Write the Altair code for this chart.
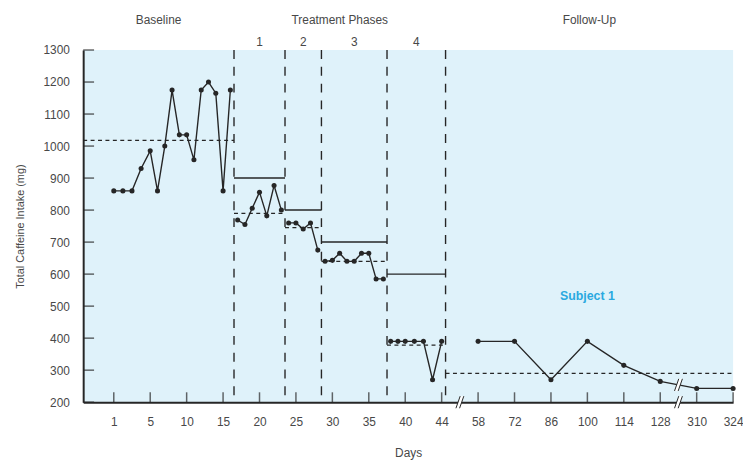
import altair as alt
import numpy as np
import pandas as pd

# ---------------- data ----------------
tick_days = [1, 5, 10, 15, 20, 25, 30, 35, 40, 44, 58, 72, 86, 100, 114, 128, 310, 324]

baseline_days = list(range(1, 17))
baseline_vals = [860, 860, 860, 930, 985, 860, 1000, 1175, 1035, 1035, 957, 1175, 1200, 1165, 860, 1175]
phase1_days = list(range(17, 24))
phase1_vals = [769, 755, 806, 856, 782, 877, 800]
phase2_days = list(range(24, 29))
phase2_vals = [760, 760, 741, 760, 675]
phase3_days = list(range(29, 38))
phase3_vals = [640, 643, 665, 640, 640, 665, 665, 585, 585]
phase4_days = list(range(38, 45))
phase4_vals = [390, 390, 390, 390, 390, 270, 390]
follow_days = [58, 72, 86, 100, 114, 128, 310, 324]
follow_vals = [390, 390, 270, 390, 315, 265, 243, 243]

phase_bounds = [16.5, 23.5, 28.5, 37.5, 45.5]
phase_labels = ["1", "2", "3", "4"]
criteria = [900, 800, 700, 600]
phase_means = [790, 745, 640, 378]
baseline_mean = 1018
follow_mean = 290
y_ticks = list(range(200, 1301, 100))

# ---------------- helpers ----------------
idx = list(range(len(tick_days)))


def pos(d):
    # broken axis: tick labels are evenly spaced, days interpolated between them
    return float(np.interp(d, tick_days, idx))


x_min, x_max = -0.84, float(idx[-1])
y_min, y_max = 200, 1300

FONT = "Liberation Sans, Arial, sans-serif"
INK = "#262626"
TXT = "#484848"
BG = "#dff2fa"

xscale = alt.Scale(domain=[x_min, x_max], nice=False, zero=False)
yscale = alt.Scale(domain=[y_min, y_max], nice=False, zero=False)
xaxis = alt.Axis(
    title="Days", values=idx, labelExpr=f"{tick_days}[datum.value]",
    ticks=False, tickSize=0, grid=False, domainColor=INK, domainWidth=2,
    labelPadding=20, labelBaseline="middle", labelOverlap=False, labelFlush=False,
    labelFont=FONT, labelFontSize=12, labelColor=TXT,
    titleFont=FONT, titleFontSize=12, titleFontWeight="normal", titleColor=TXT,
    titleY=51, titleBaseline="middle",
)
yaxis = alt.Axis(
    title="Total Caffeine Intake (mg)", values=y_ticks, format="d", ticks=False,
    tickSize=0, grid=False, domainColor=INK, domainWidth=2, labelPadding=14,
    labelFont=FONT, labelFontSize=12, labelColor=TXT,
    titleFont=FONT, titleFontSize=11, titleFontWeight="normal", titleColor=TXT,
    titleX=-58,
)


def X(f):
    return alt.X(f, type="quantitative", scale=xscale, axis=xaxis)


def Y(f):
    return alt.Y(f, type="quantitative", scale=yscale, axis=yaxis)


# ---------------- tables ----------------
segments = [
    ("baseline", baseline_days, baseline_vals),
    ("p1", phase1_days, phase1_vals),
    ("p2", phase2_days, phase2_vals),
    ("p3", phase3_days, phase3_vals),
    ("p4", phase4_days, phase4_vals),
    ("follow", follow_days, follow_vals),
]
pts = pd.DataFrame(
    [{"seg": s, "x": pos(d), "y": v} for s, ds, vs in segments for d, v in zip(ds, vs)]
)

bx = [pos(b) for b in phase_bounds]
starts = [bx[i] for i in range(4)]
ends = [bx[i + 1] for i in range(4)]

crit_df = pd.DataFrame({"x": starts, "x2": ends, "y": criteria})
mean_df = pd.DataFrame({
    "x": [x_min] + starts + [bx[-1]],
    "x2": [bx[0]] + ends + [x_max],
    "y": [baseline_mean] + phase_means + [follow_mean],
})
vline_df = pd.DataFrame({"x": bx, "y": [y_max] * len(bx), "y2": [y_min] * len(bx)})

xt_df = pd.DataFrame({"x": idx, "y": [y_min] * len(idx)})
yt_df = pd.DataFrame({"x": [x_min] * len(y_ticks), "y": y_ticks})

head_df = pd.DataFrame({
    "x": [(x_min + bx[0]) / 2, (bx[0] + bx[-1]) / 2, (bx[-1] + x_max) / 2],
    "y": [y_max] * 3,
    "t": ["Baseline", "Treatment Phases", "Follow-Up"],
})
num_df = pd.DataFrame({
    "x": [(a + b) / 2 for a, b in zip(starts, ends)],
    "y": [y_max] * 4,
    "t": phase_labels,
})
subj_df = pd.DataFrame({"x": [pos(100)], "y": [530], "t": ["Subject 1"]})

gap1 = (pos(44) + pos(58)) / 2
gap2 = (pos(128) + pos(310)) / 2
brk_df = pd.DataFrame({
    "x": [gap1, gap2, gap2],
    "y": [y_min, y_min, (follow_vals[5] + follow_vals[6]) / 2],
})

# ---------------- layers ----------------
vlines = alt.Chart(vline_df).mark_rule(
    color=INK, strokeWidth=1.4, strokeDash=[9, 8]
).encode(x=X("x"), y=Y("y"), y2="y2")

means = alt.Chart(mean_df).mark_rule(
    color=INK, strokeWidth=1.3, strokeDash=[4, 3.5]
).encode(x=X("x"), x2="x2", y=Y("y"))

crits = alt.Chart(crit_df).mark_rule(color=INK, strokeWidth=1.5).encode(
    x=X("x"), x2="x2", y=Y("y")
)

lines = alt.Chart(pts).mark_line(color=INK, strokeWidth=1.4).encode(
    x=X("x"), y=Y("y"), detail="seg:N"
)
dots = alt.Chart(pts).mark_circle(color=INK, size=26, opacity=1).encode(
    x=X("x"), y=Y("y")
)

xticks = alt.Chart(xt_df).mark_tick(
    orient="vertical", color=INK, size=10, thickness=1.5, yOffset=-5
).encode(x=X("x"), y=Y("y"))
yticks = alt.Chart(yt_df).mark_tick(
    orient="horizontal", color=INK, size=11, thickness=1.5, xOffset=5.5
).encode(x=X("x"), y=Y("y"))

brk_fill = alt.Chart(brk_df).mark_point(
    shape="M-0.65,1L0.05,-1L0.65,-1L-0.05,1Z", filled=True, color="white",
    size=150, opacity=1
).encode(x=X("x"), y=Y("y"))
brk_line = alt.Chart(brk_df).mark_point(
    shape="M-0.65,1L0.05,-1M-0.05,1L0.65,-1", filled=False, color=INK,
    strokeWidth=1, size=150, opacity=1
).encode(x=X("x"), y=Y("y"))

heads = alt.Chart(head_df).mark_text(
    font=FONT, fontSize=12, color=TXT, dy=-30, baseline="middle"
).encode(x=X("x"), y=Y("y"), text="t:N")
nums = alt.Chart(num_df).mark_text(
    font=FONT, fontSize=12, color=TXT, dy=-8, baseline="middle"
).encode(x=X("x"), y=Y("y"), text="t:N")
subj = alt.Chart(subj_df).mark_text(
    font=FONT, fontSize=12.5, fontWeight="bold", color="#2aa9e0", baseline="middle"
).encode(x=X("x"), y=Y("y"), text="t:N")

chart = alt.layer(
    means, crits, vlines, lines, dots, xticks, yticks, brk_fill, brk_line,
    heads, nums, subj
).properties(
    width=657, height=356,
    padding={"left": 76, "top": 40, "right": 10, "bottom": 59},
    autosize=alt.AutoSizeParams(type="none"),
    background="white",
).configure_view(stroke=None, fill=BG)

chart.save("out.html", embed_options={"renderer": "svg", "actions": False})
